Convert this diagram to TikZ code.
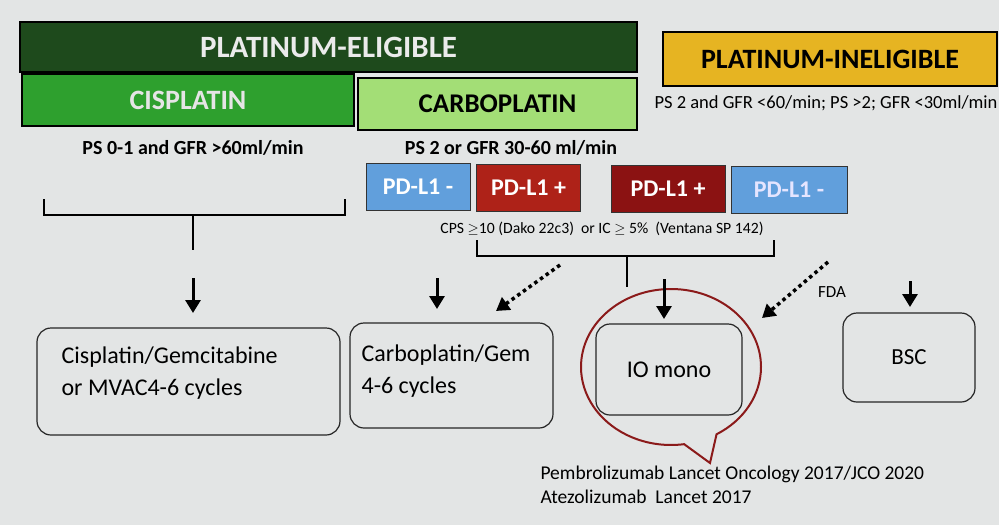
\documentclass[tikz,border=0pt]{standalone}
\usepackage{fontspec}
\setmainfont{Carlito}
\usetikzlibrary{arrows.meta,shapes.callouts}

\definecolor{bgray}{HTML}{E3E5E5}
\definecolor{darkgreen}{HTML}{1E4A1C}
\definecolor{cisgreen}{HTML}{2EA02E}
\definecolor{carbogreen}{HTML}{A3DE76}
\definecolor{ingold}{HTML}{E6B422}
\definecolor{pdblue}{HTML}{619FDC}
\definecolor{pdred}{HTML}{AE2218}
\definecolor{pddark}{HTML}{8B1212}
\definecolor{bubblered}{HTML}{8B1A1A}

\tikzset{
  header/.style={draw=black,line width=1.2pt,inner sep=0pt,font=\bfseries\fontsize{27}{29}\selectfont},
  pdbox/.style={draw=black!80,line width=1pt,minimum width=104,minimum height=47,inner sep=0pt,text=white,font=\bfseries\fontsize{24}{26}\selectfont},
  cond/.style={font=\bfseries\fontsize{20}{22}\selectfont},
  regimen/.style={draw=black!85,line width=1.2pt,rounded corners=14pt,inner sep=0pt,font=\fontsize{24}{32}\selectfont},
  downarrow/.style={-{Triangle[width=15pt,length=13pt]},line width=3pt},
  dotarrow/.style={-{Triangle[width=15pt,length=13pt]},line width=3.5pt,dash pattern=on 3.5pt off 3.5pt},
  bracket/.style={line width=2.4pt}
}

\begin{document}
\begin{tikzpicture}[x=1pt,y=-1pt]
\useasboundingbox[fill=bgray] (0,0) rectangle (999,525);

% headers
\node[header,fill=darkgreen,text=white!92!black,minimum width=617,minimum height=50,font=\bfseries\fontsize{31}{33}\selectfont] (plateli) at (328.5,47) {PLATINUM-ELIGIBLE};
\node[header,fill=cisgreen,text=white!90!black,minimum width=332,minimum height=52,font=\bfseries\fontsize{28}{30}\selectfont] (cispl) at (188,100) {CISPLATIN};
\node[header,fill=carbogreen,minimum width=279,minimum height=52] (carbopl) at (497.5,104) {CARBOPLATIN};
\node[header,fill=ingold,minimum width=334,minimum height=54,font=\bfseries\fontsize{28}{30}\selectfont] (platinel) at (830,59) {PLATINUM-INELIGIBLE};

% conditions
\node[cond] (cisps) at (193,148) {PS 0-1 and GFR >60ml/min};
\node[cond] (carbops) at (511,148) {PS 2 or GFR 30-60 ml/min};
\node[font=\fontsize{18.5}{20}\selectfont] (inelps) at (826,103) {PS 2 and GFR <60/min; PS >2; GFR <30ml/min};

% PD-L1 status
\node[pdbox,fill=pdblue] (pdneg1) at (418,187) {PD-L1 -};
\node[pdbox,fill=pdred] (pdpos1) at (528.5,188) {PD-L1 +};
\node[pdbox,fill=pddark,minimum width=114] (pdpos2) at (668,189) {PD-L1 +};
\node[pdbox,fill=pdblue,minimum width=116,text=white!90!blue] (pdneg2) at (789,190) {PD-L1 -};

\node[font=\fontsize{15.7}{17}\selectfont] (cps) at (602,229) {CPS $\geq$10 (Dako 22c3)\ \ or IC $\geq$ 5\%\ \ (Ventana SP 142)};

% brackets
\coordinate (lbl) at (44,199);
\coordinate (lbr) at (345,199);
\coordinate (lstem) at (193,250);
\draw[bracket] (lbl) -- (44,215) -- (345,215) -- (lbr);
\draw[bracket] (193,215) -- (lstem);
\coordinate (rbl) at (477,240);
\coordinate (rbr) at (774,240);
\coordinate (rstem) at (627,287);
\draw[bracket] (rbl) -- (477,256) -- (774,256) -- (rbr);
\draw[bracket] (627,256) -- (rstem);

% regimens
\node[regimen,minimum width=303,minimum height=107] (cisbox) at (188.5,381.5) {};
\node[regimen,draw=none,anchor=west,align=left] (cistxt) at (61,373) {Cisplatin/Gemcitabine\\or MVAC4-6 cycles};
\node[regimen,minimum width=203,minimum height=105] (carbobox) at (451.5,375.5) {};
\node[regimen,draw=none,anchor=west,align=left] (carbotxt) at (361,371) {Carboplatin/Gem\\4-6 cycles};
\node[regimen,minimum width=146,minimum height=91] (iobox) at (669,369.5) {IO mono};
\node[regimen,minimum width=132,minimum height=89,font=\fontsize{23}{25}\selectfont] (bscbox) at (909,357.5) {BSC};

% speech bubble
\node[ellipse callout,draw=bubblered,line width=2pt,minimum width=180,minimum height=156,callout absolute pointer={(710,463)},callout pointer arc=22] (bubble) at (671,367) {};

% arrows
\coordinate (a1) at (193,278);
\coordinate (a2) at (437,278);
\coordinate (a3) at (664,279);
\coordinate (a4) at (910,281);
\draw[downarrow] (a1) -- (193,313);
\draw[downarrow] (a2) -- (437,309);
\draw[downarrow] (a3) -- (664,319);
\draw[downarrow] (a4) -- (910,307);
\coordinate (d1) at (560,265);
\coordinate (d1e) at (496,311);
\coordinate (d2) at (828,262);
\coordinate (d2e) at (762,318);
\draw[dotarrow] (d1) -- (d1e);
\draw[dotarrow] (d2) -- (d2e);
\node[font=\fontsize{17}{19}\selectfont] (fda) at (832,292) {FDA};

% references
\node[anchor=west,align=left,font=\fontsize{19.5}{24}\selectfont] (refs) at (537,485) {Pembrolizumab Lancet Oncology 2017/JCO 2020\\Atezolizumab\ \ Lancet 2017};
\end{tikzpicture}
\end{document}
